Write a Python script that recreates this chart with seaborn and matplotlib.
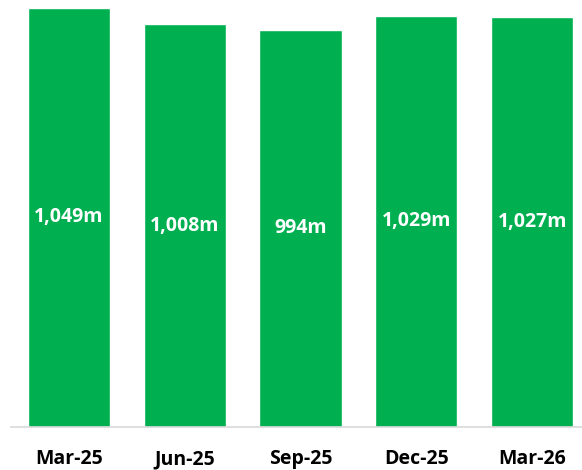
import pandas as pd
import matplotlib.pyplot as plt
import seaborn as sns

# Chart data
quarters = ['Mar-25', 'Jun-25', 'Sep-25', 'Dec-25', 'Mar-26']
values = [1049, 1008, 994, 1029, 1027]
labels = ['1,049m', '1,008m', '994m', '1,029m', '1,027m']

df = pd.DataFrame({'quarter': quarters, 'value': values})

sns.set_style('white')
plt.rcParams['font.family'] = ['Open Sans', 'DejaVu Sans']

fig = plt.figure(figsize=(5.82, 4.70), dpi=100)
ax = fig.add_axes([11 / 582, 43 / 470, 1 - 11 / 582, 427 / 470])

sns.barplot(data=df, x='quarter', y='value', color='#00B050', saturation=1,
            width=0.71, ax=ax)

ax.set_xlim(-0.5, 4.43)
ax.set_ylim(0, 1069)

# value labels in the middle of each bar
for i, (v, lab) in enumerate(zip(values, labels)):
    ax.text(i, v / 2, lab, ha='center', va='center', color='white',
            fontsize=14, fontweight='bold')

for side in ['left', 'right', 'top']:
    ax.spines[side].set_visible(False)
ax.spines['bottom'].set_color('#D9D9D9')
ax.spines['bottom'].set_linewidth(1.2)

ax.set_yticks([])
ax.set_xlabel('')
ax.set_ylabel('')
ax.tick_params(axis='x', length=0, pad=16)
for t in ax.get_xticklabels():
    t.set_fontsize(14)
    t.set_fontweight('bold')
    t.set_color('black')

fig.savefig('out.png', dpi=100)
